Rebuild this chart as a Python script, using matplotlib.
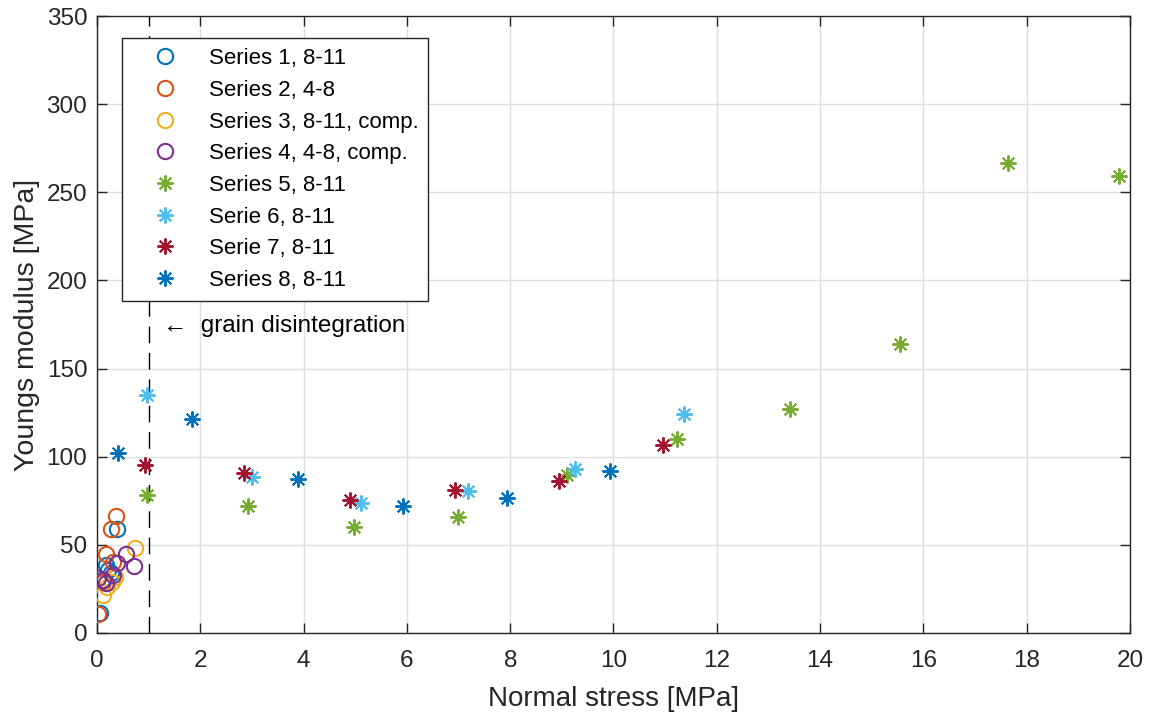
import numpy as np
import matplotlib.pyplot as plt

plt.rcParams['font.family'] = ['Liberation Sans', 'DejaVu Sans']

# circles (small stress)
s1_x = [0.38, 0.18, 0.28, 0.10, 0.05, 0.22]
s1_y = [58.8, 38.6, 33.8, 30.0, 11.5, 36.0]
s2_x = [0.36, 0.27, 0.18, 0.02, 0.30, 0.12]
s2_y = [66.4, 58.8, 44.8, 11.0, 40.0, 29.0]
s3_x = [0.74, 0.29, 0.12, 0.20, 0.35]
s3_y = [48.0, 29.1, 21.5, 26.0, 32.0]
s4_x = [0.57, 0.72, 0.39, 0.02, 0.12, 0.18, 0.30]
s4_y = [44.8, 38.0, 39.5, 31.0, 30.0, 28.2, 33.0]

# asterisks
s5_x = [0.97, 2.92, 4.98, 6.99, 9.10, 11.23, 13.42, 15.55, 17.64, 19.79]
s5_y = [78.3, 72.0, 60.0, 65.8, 89.6, 110.0, 127.0, 164.0, 266.5, 259.0]
s6_x = [0.97, 3.00, 5.11, 7.18, 9.25, 11.36]
s6_y = [135.0, 88.5, 73.7, 80.5, 93.0, 124.0]
s7_x = [0.93, 2.85, 4.90, 6.93, 8.94, 10.96]
s7_y = [95.3, 90.8, 75.4, 81.0, 86.2, 106.6]
s8_x = [0.41, 1.84, 3.89, 5.92, 7.94, 9.93]
s8_y = [102.0, 121.4, 87.4, 72.0, 76.6, 91.9]

circle_series = [
    (s1_x, s1_y, '#0072BD', 'Series 1, 8-11'),
    (s2_x, s2_y, '#D95319', 'Series 2, 4-8'),
    (s3_x, s3_y, '#EDB120', 'Series 3, 8-11, comp.'),
    (s4_x, s4_y, '#7E2F8E', 'Series 4, 4-8, comp.'),
]
star_series = [
    (s5_x, s5_y, '#77AC30', 'Series 5, 8-11'),
    (s6_x, s6_y, '#4DBEEE', 'Serie 6, 8-11'),
    (s7_x, s7_y, '#A2142F', 'Serie 7, 8-11'),
    (s8_x, s8_y, '#0072BD', 'Series 8, 8-11'),
]

fig = plt.figure(figsize=(11.51, 7.15), dpi=100)
ax = fig.add_axes([0.0843, 0.1147, 0.8974, 0.8629])

dark = '#262626'
ax.axvline(1.0, color='black', linestyle=(0, (12, 7)), linewidth=1.0, zorder=1)

for x, y, c, lab in circle_series:
    ax.plot(x, y, linestyle='none', marker='o', markersize=11, markerfacecolor='none',
            markeredgecolor=c, markeredgewidth=1.5, label=lab, zorder=3)
for x, y, c, lab in star_series:
    ax.plot(x, y, linestyle='none', marker=(8, 2, 0), markersize=11.5,
            markeredgecolor=c, markeredgewidth=1.4, color=c, label=lab, zorder=3)

ax.text(1.28, 174, '\u2190  grain disintegration', fontsize=17.5, color='black',
        va='center', ha='left')

ax.set_xlim(0, 20)
ax.set_ylim(0, 350)
ax.set_xticks(np.arange(0, 21, 2))
ax.set_yticks(np.arange(0, 351, 50))
ax.grid(True, color='#dedede', linewidth=1.0)
ax.set_axisbelow(True)
ax.tick_params(direction='in', top=True, right=True, labelsize=17.5, colors=dark,
               length=7, width=1)
ax.tick_params(axis='x', pad=12)
ax.tick_params(axis='y', pad=7)
for sp in ax.spines.values():
    sp.set_color(dark)
    sp.set_linewidth(1.0)

ax.set_xlabel('Normal stress [MPa]', fontsize=20, color=dark, labelpad=10)
ax.set_ylabel('Youngs modulus [MPa]', fontsize=20.5, color=dark, labelpad=5)

leg = ax.legend(loc='upper left', bbox_to_anchor=(0.0242, 0.964), borderaxespad=0,
                fontsize=16, frameon=True, fancybox=False, edgecolor=dark,
                framealpha=1, handletextpad=0.45, borderpad=0.45,
                labelspacing=0.48, handlelength=3.0)
leg.get_frame().set_linewidth(1.0)

fig.savefig('out.png', dpi=100)
